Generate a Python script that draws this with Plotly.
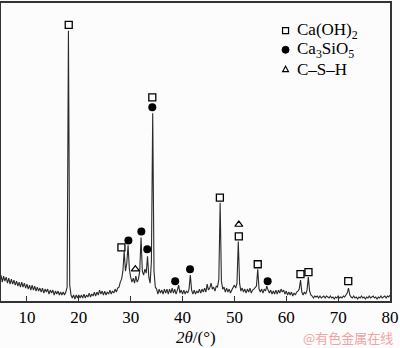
import plotly.graph_objects as go

# XRD scan: start angle and step (deg 2theta), intensities (a.u.)
scan_start = 5.0
scan_step = 0.25
intensity = [
    26, 19, 25, 20,   # 5
    24, 18, 23, 17,   # 6
    22, 17, 21, 16,   # 7
    20, 15, 19, 14,   # 8
    19, 14, 18, 13,   # 9
    17, 12, 16, 11,   # 10
    16, 11, 15, 10,   # 11
    14, 10, 13, 9,    # 12
    13, 8, 12, 9,     # 13
    12, 7, 11, 8,     # 14
    11, 6, 10, 7,     # 15
    10, 6, 9, 6,      # 16
    9, 6, 9, 14,      # 17
    272, 16, 6, 3,    # 18
    6, 2, 6, 3,       # 19
    6, 3, 6, 3,       # 20
    7, 3, 6, 4,       # 21
    8, 4, 7, 5,       # 22
    9, 5, 9, 6,       # 23
    11, 7, 10, 6,     # 24
    10, 6, 9, 7,      # 25
    11, 7, 10, 8,     # 26
    12, 9, 13, 14,    # 27
    19, 22, 30, 50,   # 28
    30, 38, 56, 32,   # 29
    24, 19, 23, 18,   # 30
    25, 19, 22, 30,   # 31
    64, 30, 26, 32,   # 32
    28, 45, 24, 18,   # 33
    40, 189, 30, 14,  # 34
    12, 7, 12, 8,     # 35
    11, 7, 12, 8,     # 36
    12, 7, 12, 8,     # 37
    13, 8, 12, 7,     # 38
    11, 16, 8, 11,    # 39
    7, 11, 7, 10,     # 40
    8, 12, 26, 11,    # 41
    7, 11, 7, 10,     # 42
    8, 12, 8, 12,     # 43
    9, 13, 9, 17,     # 44
    11, 13, 18, 12,   # 45
    14, 10, 15, 14,   # 46
    22, 99, 20, 12,   # 47
    14, 9, 13, 9,     # 48
    12, 8, 11, 14,    # 49
    16, 13, 18, 60,   # 50
    18, 10, 13, 9,    # 51
    12, 8, 12, 9,     # 52
    13, 8, 11, 12,    # 53
    14, 15, 32, 12,   # 54
    9, 12, 8, 12,     # 55
    10, 15, 11, 8,    # 56
    11, 7, 10, 7,     # 57
    11, 7, 11, 8,     # 58
    12, 9, 11, 7,     # 59
    10, 6, 9, 6,      # 60
    9, 5, 8, 6,       # 61
    9, 10, 12, 21,    # 62
    9, 6, 9, 7,       # 63
    11, 24, 10, 6,    # 64
    5, 3, 5, 4,       # 65
    5, 3, 5, 3,       # 66
    4, 5, 3, 5,       # 67
    4, 3, 5, 3,       # 68
    4, 2, 4, 3,       # 69
    5, 3, 4, 3,       # 70
    5, 4, 6, 8,       # 71
    13, 6, 4, 3,      # 72
    5, 3, 4, 2,       # 73
    4, 3, 5, 3,       # 74
    4, 2, 4, 3,       # 75
    5, 3, 4, 5,       # 76
    3, 4, 2, 4,       # 77
    3, 5, 3, 4,       # 78
    5, 3, 5, 4,       # 79
    6,                # 80
]
two_theta = [scan_start + scan_step * i for i in range(len(intensity))]

# Phase labels (peak position, label height)
caoh2_theta = [18.06, 28.22, 34.17, 47.2, 50.85, 54.5, 62.74, 64.28, 71.95]
caoh2_level = [278, 54, 205, 104, 65, 37, 27, 29, 20]
c3s_theta = [29.56, 32.06, 33.2, 34.17, 38.58, 41.45, 56.41]
c3s_level = [61, 70, 52, 195, 20, 32, 20]
csh_theta = [30.9, 50.85]
csh_level = [32, 77]

x_ticks = [10, 20, 30, 40, 50, 60, 70, 80]
legend_labels = ["Ca(OH)<sub>2</sub>", "Ca<sub>3</sub>SiO<sub>5</sub>", "C–S–H"]

SERIF = "Liberation Serif, Times New Roman, serif"

fig = go.Figure()
fig.add_trace(go.Scatter(x=two_theta, y=intensity, mode="lines",
                         line=dict(color="#2a2a2a", width=1.1), showlegend=False))
fig.add_trace(go.Scatter(x=caoh2_theta, y=caoh2_level, mode="markers",
                         marker=dict(symbol="square-open", size=7, color="black",
                                     line=dict(width=1.3, color="black")),
                         showlegend=False))
fig.add_trace(go.Scatter(x=c3s_theta, y=c3s_level, mode="markers",
                         marker=dict(symbol="circle", size=8, color="black"),
                         showlegend=False))
fig.add_trace(go.Scatter(x=csh_theta, y=csh_level, mode="markers",
                         marker=dict(symbol="triangle-up-open", size=7, color="black",
                                     line=dict(width=1.2, color="black")),
                         showlegend=False))

# legend made of small shapes + text
lx = 0.7315
rows_y = [0.907, 0.843, 0.778]
shapes = [
    dict(type="rect", xref="paper", yref="paper", xsizemode="pixel", ysizemode="pixel",
         xanchor=lx, yanchor=rows_y[0], x0=-3, x1=3, y0=-3, y1=3,
         line=dict(color="black", width=1.2), fillcolor="rgba(0,0,0,0)"),
    dict(type="circle", xref="paper", yref="paper", xsizemode="pixel", ysizemode="pixel",
         xanchor=lx, yanchor=rows_y[1], x0=-3.5, x1=3.5, y0=-3.5, y1=3.5,
         line=dict(color="black", width=1), fillcolor="black"),
    dict(type="path", xref="paper", yref="paper", xsizemode="pixel", ysizemode="pixel",
         xanchor=lx, yanchor=rows_y[2], path="M-3,-2.5 L3,-2.5 L0,3 Z",
         line=dict(color="black", width=1.1), fillcolor="rgba(0,0,0,0)"),
]
annotations = []
for lab, yy in zip(legend_labels, rows_y):
    annotations.append(dict(xref="paper", yref="paper", x=0.757, y=yy, text=lab,
                            showarrow=False, xanchor="left", yanchor="middle",
                            font=dict(family=SERIF, size=17, color="black")))
annotations.append(dict(xref="paper", yref="paper", x=0.5, y=-0.123,
                        text="<i>2θ</i>/(°)", showarrow=False,
                        xanchor="center", yanchor="middle",
                        font=dict(family=SERIF, size=17, color="black")))
annotations.append(dict(xref="paper", yref="paper", x=0.893, y=-0.123,
                        text="@有色金属在线", showarrow=False,
                        xanchor="center", yanchor="middle",
                        font=dict(family="Noto Sans CJK SC", size=13, color="#f2a3a3")))

fig.update_layout(
    width=400, height=348,
    margin=dict(l=1, r=8, t=1, b=47),
    paper_bgcolor="#fcfcfc", plot_bgcolor="#fcfcfc",
    shapes=shapes, annotations=annotations,
    showlegend=False,
)
fig.update_xaxes(range=[5, 80], tickvals=x_ticks, ticks="inside", ticklen=5,
                 tickwidth=1.2, tickcolor="#333", showline=True, linecolor="#333",
                 linewidth=1.5, mirror=True, showgrid=False, zeroline=False,
                 ticklabeloverflow="allow",
                 tickfont=dict(family=SERIF, size=17, color="black"))
fig.update_yaxes(range=[0, 300], showticklabels=False, ticks="", showline=True,
                 linecolor="#333", linewidth=1.5, mirror=True, showgrid=False,
                 zeroline=False)

fig.write_html("out.html")
